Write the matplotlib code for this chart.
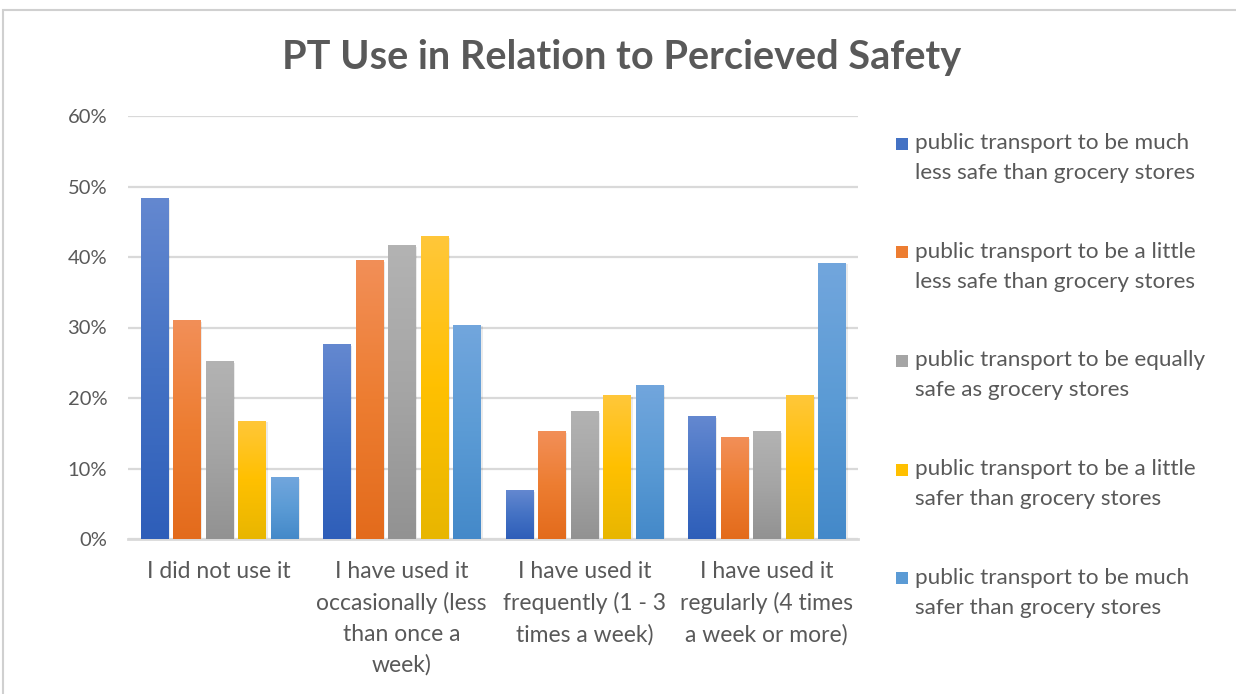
import matplotlib
matplotlib.use('Agg')
import matplotlib.pyplot as plt
import numpy as np
from matplotlib.colors import LinearSegmentedColormap
from matplotlib.patches import Rectangle

categories = ['I did not use it',
              'I have used it\noccasionally (less\nthan once a\nweek)',
              'I have used it\nfrequently (1 - 3\ntimes a week)',
              'I have used it\nregularly (4 times\na week or more)']

series_labels = ['public transport to be much\nless safe than grocery stores',
                 'public transport to be a little\nless safe than grocery stores',
                 'public transport to be equally\nsafe as grocery stores',
                 'public transport to be a little\nsafer than grocery stores',
                 'public transport to be much\nsafer than grocery stores']

much_less = [48.4, 27.6, 6.9, 17.4]
little_less = [31.0, 39.6, 15.3, 14.4]
equal = [25.2, 41.7, 18.1, 15.3]
little_safer = [16.8, 43.0, 20.4, 20.4]
much_safer = [8.8, 30.4, 21.9, 39.2]

yticks = [0, 10, 20, 30, 40, 50, 60]

# gradient colors (top, middle, bottom)
grads = [['#6488d0', '#4472c4', '#2e5eb9'],
         ['#f28f58', '#ed7d31', '#e36b1c'],
         ['#b3b3b3', '#a5a5a5', '#929292'],
         ['#ffc73a', '#ffc000', '#e8b600'],
         ['#72a6dd', '#5b9bd5', '#4489c9']]

text_col = '#595959'
grid_col = '#d9d9d9'
plt.rcParams['font.family'] = ['Lato', 'DejaVu Sans']

W, H = 1236, 694
fig = plt.figure(figsize=(W / 100, H / 100), dpi=100)
fig.patches.append(Rectangle((3 / W, -0.1), 1.2, 1 - 10 / H + 0.1, transform=fig.transFigure,
                             fill=False, edgecolor='#d0d0d0', linewidth=1.5))

ax = fig.add_axes([128 / W, 1 - 539 / H, 730 / W, 423 / H])

values = [much_less, little_less, equal, little_safer, much_safer]
x = np.arange(len(categories))
step = 0.1786
width = 0.148
grad = np.linspace(1, 0, 256).reshape(-1, 1)

for k, vals in enumerate(values):
    cmap = LinearSegmentedColormap.from_list('g%d' % k, grads[k][::-1])
    bars = ax.bar(x + (k - 2) * step, vals, width, color='none', edgecolor='none', zorder=3)
    for b in bars:
        x0, y0 = b.get_x(), b.get_y()
        im = ax.imshow(grad, extent=[x0, x0 + b.get_width(), y0, y0 + b.get_height()],
                       cmap=cmap, aspect='auto', origin='upper', zorder=3)
        im.set_clip_path(b)
        sh = Rectangle((x0 + 0.012, 0), b.get_width(), b.get_height() - 0.25,
                       facecolor='#000000', alpha=0.08, edgecolor='none', zorder=2.5)
        ax.add_patch(sh)

ax.set_xlim(-0.5, 3.5)
ax.set_ylim(0, 60)
ax.set_yticks(yticks)
ax.set_yticklabels(['%d%%' % t for t in yticks])
ax.set_xticks(x)
ax.set_xticklabels(categories, linespacing=1.55)
ax.yaxis.grid(True, color=grid_col, linewidth=1.6, zorder=0)
ax.set_axisbelow(True)
for s in ['top', 'right', 'left']:
    ax.spines[s].set_visible(False)
ax.spines['bottom'].set_color(grid_col)
ax.spines['bottom'].set_linewidth(2)
ax.tick_params(axis='both', length=0, labelcolor=text_col, labelsize=14.5)
ax.tick_params(axis='y', pad=15)
ax.tick_params(axis='x', pad=16, labelsize=16.5)

fig.text(622 / W, 1 - 58 / H, 'PT Use in Relation to Percieved Safety', ha='center', va='center',
         fontsize=28.5, fontweight='bold', color=text_col)

# legend
for k, lab in enumerate(series_labels):
    yc = 143 + 108.7 * k
    fig.patches.append(Rectangle((896 / W, 1 - (yc + 6.5) / H), 12 / W, 12 / H,
                                 transform=fig.transFigure, facecolor=grads[k][1], edgecolor='none'))
    for j, line in enumerate(lab.split('\n')):
        fig.text(915 / W, 1 - (yc + 30 * j) / H, line, ha='left', va='center',
                 fontsize=16.2, color=text_col)

fig.savefig('out.png', dpi=100)
